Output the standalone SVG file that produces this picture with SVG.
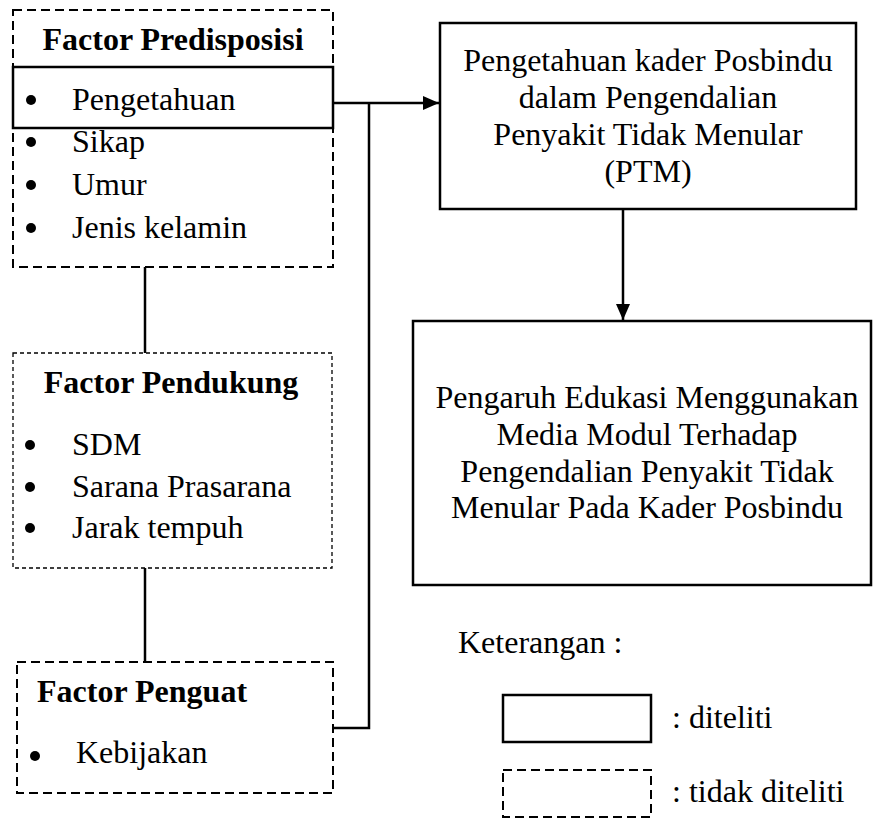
<svg xmlns="http://www.w3.org/2000/svg" width="873" height="818" viewBox="0 0 873 818">
<style>
text{font-family:"Liberation Serif","Times New Roman",serif;font-size:32px;fill:#000}
.b{font-weight:bold}
.m{text-anchor:middle}
.solid{fill:none;stroke:#000;stroke-width:2.5}
.dash{fill:none;stroke:#000;stroke-width:2;stroke-dasharray:9 5}
.dash2{fill:none;stroke:#000;stroke-width:1.3;stroke-dasharray:4 3}
.ln{fill:none;stroke:#000;stroke-width:2.5}
</style>
<defs>
<marker id="ah" viewBox="0 0 16 14" refX="16" refY="7" markerWidth="16" markerHeight="14" markerUnits="userSpaceOnUse" orient="auto">
<path d="M0,0 L16,7 L0,14 z" fill="#000"/>
</marker>
</defs>
<g id="predisposisi">
<rect class="dash" x="13" y="10" width="320" height="257"/>
<rect class="solid" x="13" y="67" width="320" height="61"/>
<text class="b m" x="173" y="50">Factor Predisposisi</text>
<circle cx="31" cy="100" r="5"/><text x="72" y="110">Pengetahuan</text>
<circle cx="31" cy="142" r="5"/><text x="72" y="152">Sikap</text>
<circle cx="31" cy="185" r="5"/><text x="72" y="195">Umur</text>
<circle cx="31" cy="228" r="5"/><text x="72" y="238">Jenis kelamin</text>
</g>
<g id="pendukung">
<rect class="dash2" x="13" y="353" width="319" height="215"/>
<text class="b m" x="171" y="393">Factor Pendukung</text>
<circle cx="30" cy="445" r="5"/><text x="72" y="455">SDM</text>
<circle cx="30" cy="487" r="5"/><text x="72" y="497">Sarana Prasarana</text>
<circle cx="30" cy="528" r="5"/><text x="72" y="538">Jarak tempuh</text>
</g>
<g id="penguat">
<rect class="dash" x="17" y="662" width="316" height="131"/>
<text class="b" x="37" y="702">Factor Penguat</text>
<circle cx="35" cy="756" r="5"/><text x="76" y="763">Kebijakan</text>
</g>
<g id="pengetahuan-kader">
<rect class="solid" x="440" y="23" width="416" height="186"/>
<text class="m" x="648" y="71">Pengetahuan kader Posbindu</text>
<text class="m" x="648" y="108">dalam Pengendalian</text>
<text class="m" x="648" y="145">Penyakit Tidak Menular</text>
<text class="m" x="648" y="182">(PTM)</text>
</g>
<g id="pengaruh">
<rect class="solid" x="413" y="321" width="458" height="264"/>
<text class="m" x="647" y="408">Pengaruh Edukasi Menggunakan</text>
<text class="m" x="647" y="445">Media Modul Terhadap</text>
<text class="m" x="647" y="482">Pengendalian Penyakit Tidak</text>
<text class="m" x="647" y="518">Menular Pada Kader Posbindu</text>
</g>
<g id="legend">
<text x="458" y="653">Keterangan :</text>
<rect class="solid" x="503" y="695" width="148" height="47"/>
<text x="672" y="728">: diteliti</text>
<rect class="dash" x="503" y="770" width="148" height="47"/>
<text x="672" y="802">: tidak diteliti</text>
</g>
<g id="connectors">
<path class="ln" d="M333,103 H439" marker-end="url(#ah)"/>
<path class="ln" d="M333,728 H369 V103"/>
<path class="ln" d="M623,209 V320" marker-end="url(#ah)"/>
<path class="ln" d="M145,267 V353"/>
<path class="ln" d="M145,568 V662"/>
</g>
</svg>
